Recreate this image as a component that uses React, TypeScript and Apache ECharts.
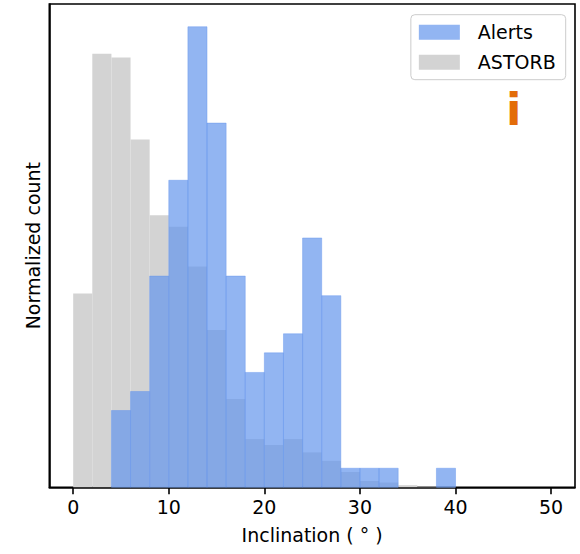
import React, { useEffect, useRef } from "react";
import * as echarts from "echarts";

// Bin left edges (degrees), bin width 2
const binStarts: number[] = [0, 2, 4, 6, 8, 10, 12, 14, 16, 18, 20, 22, 24, 26, 28, 30, 32, 34, 36, 38];
const binWidth = 2;

// Normalized counts (density)
const alertsValues: number[] = [
  0, 0, 0.0145, 0.0181, 0.0399, 0.058, 0.087, 0.0688, 0.0399, 0.0217,
  0.0254, 0.029, 0.0471, 0.0362, 0.0036, 0.0036, 0.0036, 0, 0, 0.0036,
];
const astorbValues: number[] = [
  0.0366, 0.0819, 0.0812, 0.0657, 0.0514, 0.0492, 0.0417, 0.0297, 0.0167, 0.0091,
  0.008, 0.0091, 0.0066, 0.005, 0.0029, 0.0012, 0.0009, 0.0004, 0.0001, 0.0001,
];

const xTicks: number[] = [0, 10, 20, 30, 40, 50];
const xMin = -2.5;
const xMax = 52.5;
const yMax = 0.0913;

const W = 580;
const H = 554;

const FONT = "DejaVu Sans";
const BLUE = "rgba(100,149,237,0.7)";
const GREY = "#d3d3d3";

function histData(vals: number[]) {
  return binStarts.map((s, i) => [s, s + binWidth, vals[i]]);
}

function makeRender(fill: string, stroke: string | null) {
  return (params: any, api: any) => {
    const y = api.value(2);
    if (!y) return null;
    const p0 = api.coord([api.value(0), y]);
    const p1 = api.coord([api.value(1), 0]);
    return {
      type: "rect",
      shape: { x: p0[0], y: p0[1], width: p1[0] - p0[0], height: p1[1] - p0[1] },
      style: stroke ? { fill, stroke, lineWidth: 0.8 } : { fill },
    };
  };
}

const spine = { show: true, onZero: false, lineStyle: { color: "#000", width: 1.6 } };

export default function App() {
  const ref = useRef<HTMLDivElement>(null);
  useEffect(() => {
    if (!ref.current) return;
    const chart = echarts.init(ref.current, undefined, { renderer: "svg" });
    chart.setOption({
      animation: false,
      backgroundColor: "#fff",
      grid: {
        left: 49.3,
        right: 5,
        top: 4,
        bottom: 66.7,
        show: true,
        borderColor: "#000",
        borderWidth: 1.6,
        backgroundColor: "rgba(0,0,0,0)",
      },
      legend: {
        orient: "vertical",
        right: 14.3,
        top: 14.7,
        data: [
          { name: "Alerts", icon: "rect" },
          { name: "ASTORB", icon: "rect" },
        ],
        itemWidth: 41,
        itemHeight: 15,
        itemGap: 11,
        padding: [8, 10, 8, 8],
        borderColor: "#cccccc",
        borderWidth: 1,
        borderRadius: 4,
        backgroundColor: "rgba(255,255,255,0.8)",
        textStyle: { fontFamily: FONT, fontSize: 19, color: "#000", padding: [0, 0, 0, 13] },
        selectedMode: false,
      },
      xAxis: {
        type: "value",
        min: xMin,
        max: xMax,
        name: "Inclination ( ° )",
        nameLocation: "middle",
        nameGap: 38,
        nameTextStyle: { fontFamily: FONT, fontSize: 19, color: "#000" },
        axisLine: spine,
        axisTick: {
          show: true,
          length: 7,
          lineStyle: { color: "#000", width: 1.6 },
          customValues: xTicks,
        },
        axisLabel: {
          fontFamily: FONT,
          fontSize: 19,
          color: "#000",
          margin: 10,
          customValues: xTicks,
        },
        splitLine: { show: false },
      },
      yAxis: {
        type: "value",
        min: 0,
        max: yMax,
        name: "Normalized count",
        nameLocation: "middle",
        nameGap: 7,
        nameTextStyle: { fontFamily: FONT, fontSize: 19, color: "#000" },
        axisLine: spine,
        axisTick: { show: false },
        axisLabel: { show: false },
        splitLine: { show: false },
      },
      series: [
        {
          name: "ASTORB",
          type: "custom",
          renderItem: makeRender(GREY, null),
          itemStyle: { color: GREY },
          encode: { x: [0, 1], y: 2 },
          data: histData(astorbValues),
          z: 2,
        },
        {
          name: "Alerts",
          type: "custom",
          renderItem: makeRender(BLUE, "rgba(100,149,237,0.55)"),
          itemStyle: { color: BLUE },
          encode: { x: [0, 1], y: 2 },
          data: histData(alertsValues),
          z: 3,
        },
      ],
      graphic: [
        {
          type: "text",
          x: 513.7,
          y: 109,
          z: 10,
          style: {
            text: "i",
            font: `bold 45px "${FONT}"`,
            fill: "#e36c0a",
            textAlign: "center",
            textVerticalAlign: "middle",
          },
        },
      ],
    });
    return () => chart.dispose();
  }, []);
  return (
    <div
      ref={ref}
      style={{ position: "fixed", left: 0, top: 0, width: W, height: H, background: "#fff" }}
    />
  );
}
